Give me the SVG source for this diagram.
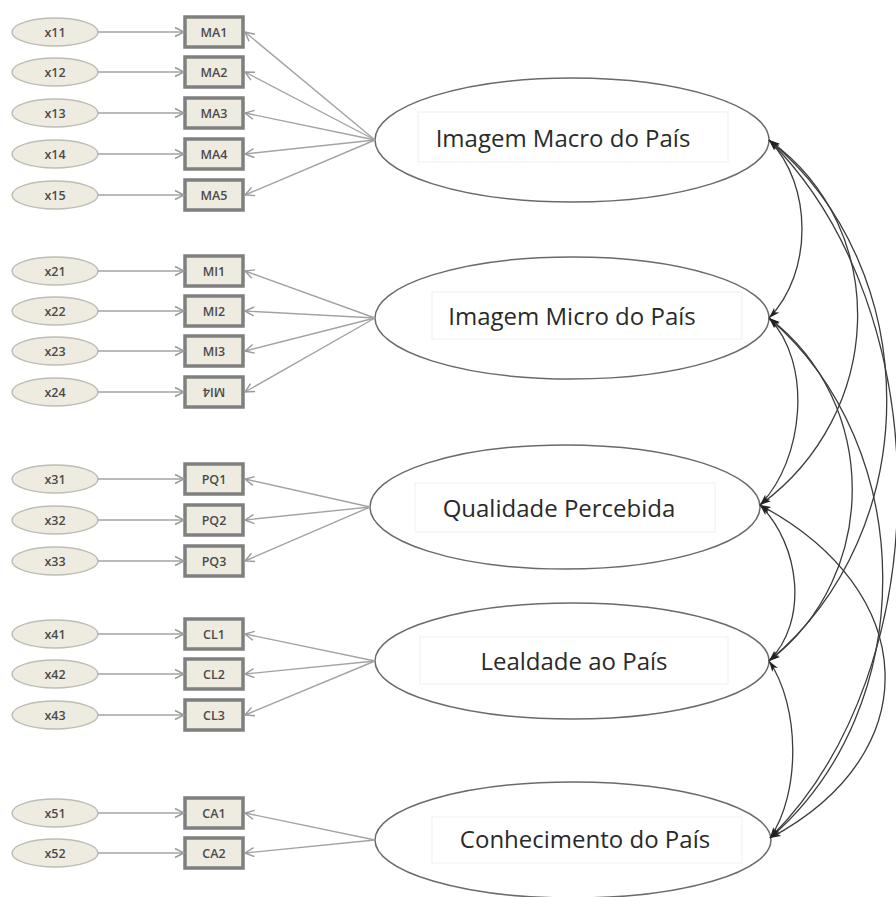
<svg xmlns="http://www.w3.org/2000/svg" width="896" height="897" viewBox="0 0 896 897">
<defs>
<marker id="ga" markerUnits="userSpaceOnUse" markerWidth="12" markerHeight="12" refX="10" refY="5" orient="auto" viewBox="0 0 12 10">
<path d="M1,0.5 L10,5 L1,9.5" fill="none" stroke="#9a9a9a" stroke-width="1.4"/>
</marker>
<marker id="ba" markerUnits="userSpaceOnUse" markerWidth="12" markerHeight="8" refX="11" refY="4" orient="auto-start-reverse" viewBox="0 0 12 8">
<path d="M0,0.5 L11,4 L0,7.5 L3,4 z" fill="#222"/>
</marker>
<style>
.obs{fill:#eeece1;stroke:#bdbdb5;stroke-width:1.5}
.ind rect{fill:#eeece1;stroke:#7f7f7f;stroke-width:3.5}
.lat ellipse{fill:#fff;stroke:#6a6a6a;stroke-width:1.5}
.tb{fill:none;stroke:#f0f0f0;stroke-width:1}
.st{font-family:"Open Sans","Liberation Sans",sans-serif;font-size:12.5px;font-weight:600;fill:#4a4a4a;text-anchor:middle}
.lt{font-family:"Open Sans","Liberation Sans",sans-serif;font-size:24px;fill:#2a2a2a;text-anchor:middle}
.g{stroke:#a3a3a3;stroke-width:1.4;fill:none;marker-end:url(#ga)}
.cov{stroke:#3c3c3c;stroke-width:1.3;fill:none;marker-start:url(#ba);marker-end:url(#ba)}
</style>
</defs>

<!-- observed error terms -->
<g id="errors">
<g id="x11"><ellipse class="obs" cx="55" cy="32" rx="43" ry="14"/><text class="st" x="55" y="36.5">x11</text></g>
<g id="x12"><ellipse class="obs" cx="55" cy="72" rx="43" ry="14"/><text class="st" x="55" y="76.5">x12</text></g>
<g id="x13"><ellipse class="obs" cx="55" cy="113" rx="43" ry="14"/><text class="st" x="55" y="117.5">x13</text></g>
<g id="x14"><ellipse class="obs" cx="55" cy="154" rx="43" ry="14"/><text class="st" x="55" y="158.5">x14</text></g>
<g id="x15"><ellipse class="obs" cx="55" cy="195" rx="43" ry="14"/><text class="st" x="55" y="199.5">x15</text></g>
<g id="x21"><ellipse class="obs" cx="55" cy="271" rx="43" ry="14"/><text class="st" x="55" y="275.5">x21</text></g>
<g id="x22"><ellipse class="obs" cx="55" cy="311" rx="43" ry="14"/><text class="st" x="55" y="315.5">x22</text></g>
<g id="x23"><ellipse class="obs" cx="55" cy="351" rx="43" ry="14"/><text class="st" x="55" y="355.5">x23</text></g>
<g id="x24"><ellipse class="obs" cx="55" cy="392" rx="43" ry="14"/><text class="st" x="55" y="396.5">x24</text></g>
<g id="x31"><ellipse class="obs" cx="55" cy="479" rx="43" ry="14"/><text class="st" x="55" y="483.5">x31</text></g>
<g id="x32"><ellipse class="obs" cx="55" cy="520" rx="43" ry="14"/><text class="st" x="55" y="524.5">x32</text></g>
<g id="x33"><ellipse class="obs" cx="55" cy="561" rx="43" ry="14"/><text class="st" x="55" y="565.5">x33</text></g>
<g id="x41"><ellipse class="obs" cx="55" cy="634" rx="43" ry="14"/><text class="st" x="55" y="638.5">x41</text></g>
<g id="x42"><ellipse class="obs" cx="55" cy="674" rx="43" ry="14"/><text class="st" x="55" y="678.5">x42</text></g>
<g id="x43"><ellipse class="obs" cx="55" cy="715" rx="43" ry="14"/><text class="st" x="55" y="719.5">x43</text></g>
<g id="x51"><ellipse class="obs" cx="55" cy="813" rx="43" ry="14"/><text class="st" x="55" y="817.5">x51</text></g>
<g id="x52"><ellipse class="obs" cx="55" cy="853" rx="43" ry="14"/><text class="st" x="55" y="857.5">x52</text></g>
</g>

<!-- indicators -->
<g id="indicators" class="ind">
<g id="MA1"><rect x="185" y="17" width="58" height="30"/><text class="st" x="214" y="36.5">MA1</text></g>
<g id="MA2"><rect x="185" y="57" width="58" height="30"/><text class="st" x="214" y="76.5">MA2</text></g>
<g id="MA3"><rect x="185" y="98" width="58" height="30"/><text class="st" x="214" y="117.5">MA3</text></g>
<g id="MA4"><rect x="185" y="139" width="58" height="30"/><text class="st" x="214" y="158.5">MA4</text></g>
<g id="MA5"><rect x="185" y="180" width="58" height="30"/><text class="st" x="214" y="199.5">MA5</text></g>
<g id="MI1"><rect x="185" y="256" width="58" height="30"/><text class="st" x="214" y="275.5">MI1</text></g>
<g id="MI2"><rect x="185" y="296" width="58" height="30"/><text class="st" x="214" y="315.5">MI2</text></g>
<g id="MI3"><rect x="185" y="336" width="58" height="30"/><text class="st" x="214" y="355.5">MI3</text></g>
<g id="MI4"><rect x="185" y="377" width="58" height="30"/><text class="st" x="214" y="396.5" transform="rotate(180 214 392)">MI4</text></g>
<g id="PQ1"><rect x="185" y="464" width="58" height="30"/><text class="st" x="214" y="483.5">PQ1</text></g>
<g id="PQ2"><rect x="185" y="505" width="58" height="30"/><text class="st" x="214" y="524.5">PQ2</text></g>
<g id="PQ3"><rect x="185" y="546" width="58" height="30"/><text class="st" x="214" y="565.5">PQ3</text></g>
<g id="CL1"><rect x="185" y="619" width="58" height="30"/><text class="st" x="214" y="638.5">CL1</text></g>
<g id="CL2"><rect x="185" y="659" width="58" height="30"/><text class="st" x="214" y="678.5">CL2</text></g>
<g id="CL3"><rect x="185" y="700" width="58" height="30"/><text class="st" x="214" y="719.5">CL3</text></g>
<g id="CA1"><rect x="185" y="798" width="58" height="30"/><text class="st" x="214" y="817.5">CA1</text></g>
<g id="CA2"><rect x="185" y="838" width="58" height="30"/><text class="st" x="214" y="857.5">CA2</text></g>
</g>

<!-- latent variables -->
<g id="latents" class="lat">
<g id="macro"><ellipse cx="572" cy="140" rx="197" ry="62"/><rect class="tb" x="418" y="112" width="310" height="50"/><text class="lt" x="563" y="147">Imagem Macro do País</text></g>
<g id="micro"><ellipse cx="572" cy="318" rx="197" ry="61"/><rect class="tb" x="432" y="292" width="310" height="47"/><text class="lt" x="572" y="325">Imagem Micro do País</text></g>
<g id="qualidade"><ellipse cx="565" cy="507" rx="195" ry="62"/><rect class="tb" x="415" y="483" width="300" height="49"/><text class="lt" x="559" y="517">Qualidade Percebida</text></g>
<g id="lealdade"><ellipse cx="572" cy="661" rx="197" ry="58"/><rect class="tb" x="420" y="637" width="308" height="47"/><text class="lt" x="574" y="670">Lealdade ao País</text></g>
<g id="conhecimento"><ellipse cx="573" cy="840" rx="198" ry="58"/><rect class="tb" x="432" y="817" width="310" height="46"/><text class="lt" x="585" y="848">Conhecimento do País</text></g>
</g>

<!-- connectors -->
<g id="connectors">
<g id="errorpaths">
<line class="g" x1="98" y1="32" x2="184" y2="32"/>
<line class="g" x1="98" y1="72" x2="184" y2="72"/>
<line class="g" x1="98" y1="113" x2="184" y2="113"/>
<line class="g" x1="98" y1="154" x2="184" y2="154"/>
<line class="g" x1="98" y1="195" x2="184" y2="195"/>
<line class="g" x1="98" y1="271" x2="184" y2="271"/>
<line class="g" x1="98" y1="311" x2="184" y2="311"/>
<line class="g" x1="98" y1="351" x2="184" y2="351"/>
<line class="g" x1="98" y1="392" x2="184" y2="392"/>
<line class="g" x1="98" y1="479" x2="184" y2="479"/>
<line class="g" x1="98" y1="520" x2="184" y2="520"/>
<line class="g" x1="98" y1="561" x2="184" y2="561"/>
<line class="g" x1="98" y1="634" x2="184" y2="634"/>
<line class="g" x1="98" y1="674" x2="184" y2="674"/>
<line class="g" x1="98" y1="715" x2="184" y2="715"/>
<line class="g" x1="98" y1="813" x2="184" y2="813"/>
<line class="g" x1="98" y1="853" x2="184" y2="853"/>
</g>
<g id="loadings">
<line class="g" x1="375" y1="140" x2="245" y2="32"/>
<line class="g" x1="375" y1="140" x2="245" y2="72"/>
<line class="g" x1="375" y1="140" x2="245" y2="113"/>
<line class="g" x1="375" y1="140" x2="245" y2="154"/>
<line class="g" x1="375" y1="140" x2="245" y2="195"/>
<line class="g" x1="375" y1="318" x2="245" y2="271"/>
<line class="g" x1="375" y1="318" x2="245" y2="311"/>
<line class="g" x1="375" y1="318" x2="245" y2="351"/>
<line class="g" x1="375" y1="318" x2="245" y2="392"/>
<line class="g" x1="370" y1="507" x2="245" y2="479"/>
<line class="g" x1="370" y1="507" x2="245" y2="520"/>
<line class="g" x1="370" y1="507" x2="245" y2="561"/>
<line class="g" x1="375" y1="661" x2="245" y2="634"/>
<line class="g" x1="375" y1="661" x2="245" y2="674"/>
<line class="g" x1="375" y1="661" x2="245" y2="715"/>
<line class="g" x1="375" y1="840" x2="245" y2="813"/>
<line class="g" x1="375" y1="840" x2="245" y2="853"/>
</g>
<g id="covariances">
<path class="cov" d="M769,140 C813,185 813,273 769,318"/>
<path class="cov" d="M769,140 C893,230 884,415 760,505"/>
<path class="cov" d="M769,140 C926,270 926,531 769,661"/>
<path class="cov" d="M769,140 C940,310 941,668 770,838"/>
<path class="cov" d="M769,318 C813,363 804,460 760,505"/>
<path class="cov" d="M769,318 C880,403 880,576 769,661"/>
<path class="cov" d="M769,318 C920,448 921,708 770,838"/>
<path class="cov" d="M760,505 C800,545 809,621 769,661"/>
<path class="cov" d="M760,505 C920,590 930,753 770,838"/>
<path class="cov" d="M769,661 C800,706 801,793 770,838"/>
</g>
</g>
</svg>
